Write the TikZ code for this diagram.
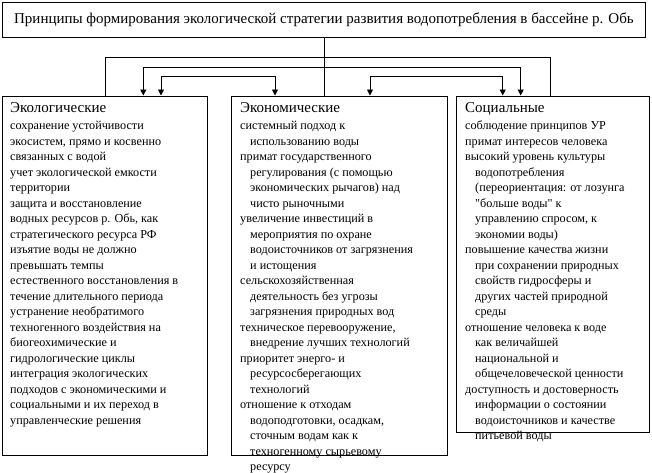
\documentclass[tikz,border=0pt]{standalone}
\usepackage{fontspec}
\setmainfont{Liberation Serif}[Ligatures=TeXOff]
\usetikzlibrary{arrows.meta,calc}
\begin{document}
\begin{tikzpicture}[x=1pt,y=-1pt,
  frame/.style={draw,line width=0.9pt,inner sep=0pt,anchor=north west},
  conn/.style={line width=0.9pt},
  arr/.style={line width=0.9pt,-{Triangle[width=6pt,length=6pt]}},
  head/.style={anchor=north west,inner sep=0pt,font=\fontsize{15}{17}\selectfont},
  body/.style={anchor=north west,inner sep=0pt,align=left,font=\fontsize{12.2}{15.5}\selectfont}]
\useasboundingbox (0,0) rectangle (652,472);
% boxes
\node[frame,minimum width=643pt,minimum height=35pt] (title) at (2,2) {};
\node[font=\fontsize{15}{16}\selectfont] (ttext) at (title.center) {Принципы формирования экологической стратегии развития водопотребления в бассейне р. Обь};
\node[frame,minimum width=204.5pt,minimum height=359.5pt] (eco) at (2,95.5) {};
\node[frame,minimum width=216pt,minimum height=359.5pt] (econ) at (230.5,95.5) {};
\node[frame,minimum width=193.5pt,minimum height=336pt] (soc) at (455.5,95.5) {};
% texts
\node[head] (ecoh) at (10,102) {Экологические};
\node[body] (ecob) at (10,121) {сохранение устойчивости\\
экосистем, прямо и косвенно\\
связанных с водой\\
учет экологической емкости\\
территории\\
защита и восстановление\\
водных ресурсов р. Обь, как\\
стратегического ресурса РФ\\
изъятие воды не должно\\
превышать темпы\\
естественного восстановления в\\
течение длительного периода\\
устранение необратимого\\
техногенного воздействия на\\
биогеохимические и\\
гидрологические циклы\\
интеграция экологических\\
подходов с экономическими и\\
социальными и их переход в\\
управленческие решения};
\node[head] (econh) at (240,102) {Экономические};
\node[body] (econb) at (240,121) {системный подход к\\
\hspace*{10pt}использованию воды\\
примат государственного\\
\hspace*{10pt}регулирования (с помощью\\
\hspace*{10pt}экономических рычагов) над\\
\hspace*{10pt}чисто рыночными\\
увеличение инвестиций в\\
\hspace*{10pt}мероприятия по охране\\
\hspace*{10pt}водоисточников от загрязнения\\
\hspace*{10pt}и истощения\\
сельскохозяйственная\\
\hspace*{10pt}деятельность без угрозы\\
\hspace*{10pt}загрязнения природных вод\\
техническое перевооружение,\\
\hspace*{10pt}внедрение лучших технологий\\
приоритет энерго- и\\
\hspace*{10pt}ресурсосберегающих\\
\hspace*{10pt}технологий\\
отношение к отходам\\
\hspace*{10pt}водоподготовки, осадкам,\\
\hspace*{10pt}сточным водам как к\\
\hspace*{10pt}техногенному сырьевому\\
\hspace*{10pt}ресурсу};
\node[head] (soch) at (465,102) {Социальные};
\node[body] (socb) at (465,121) {соблюдение принципов УР\\
примат интересов человека\\
высокий уровень культуры\\
\hspace*{10pt}водопотребления\\
\hspace*{10pt}(переориентация: от лозунга\\
\hspace*{10pt}"больше воды" к\\
\hspace*{10pt}управлению спросом, к\\
\hspace*{10pt}экономии воды)\\
повышение качества жизни\\
\hspace*{10pt}при сохранении природных\\
\hspace*{10pt}свойств гидросферы и\\
\hspace*{10pt}других частей природной\\
\hspace*{10pt}среды\\
отношение человека к воде\\
\hspace*{10pt}как величайшей\\
\hspace*{10pt}национальной и\\
\hspace*{10pt}общечеловеческой ценности\\
доступность и достоверность\\
\hspace*{10pt}информации о состоянии\\
\hspace*{10pt}водоисточников и качестве\\
\hspace*{10pt}питьевой воды};
% junction coordinates
\coordinate (yA) at (0,57.3);
\coordinate (yB) at (0,67.3);
\coordinate (yC) at (0,76.3);
\coordinate (xL0) at (105.7,0);
\coordinate (xL1) at (143.3,0);
\coordinate (xL2) at (161,0);
\coordinate (xM1) at (275,0);
\coordinate (xM2) at (370,0);
\coordinate (xR2) at (502.7,0);
\coordinate (xR1) at (520.7,0);
\coordinate (xR0) at (550,0);
% connectors
\draw[conn] (title.south) -- (title.south |- econ.north);
\draw[conn] (xL0 |- eco.north) -- (xL0 |- yA) -- (xR0 |- yA) -- (xR0 |- soc.north);
\draw[arr] (xL1 |- yB) -- (xL1 |- eco.north);
\draw[arr] (xL1 |- yB) -- (xR1 |- yB) -- (xR1 |- soc.north);
\draw[arr] (xL2 |- yC) -- (xL2 |- eco.north);
\draw[arr] (xL2 |- yC) -- (xM1 |- yC) -- (xM1 |- econ.north);
\draw[arr] (xM2 |- yC) -- (xM2 |- econ.north);
\draw[arr] (xM2 |- yC) -- (xR2 |- yC) -- (xR2 |- soc.north);
\end{tikzpicture}
\end{document}
